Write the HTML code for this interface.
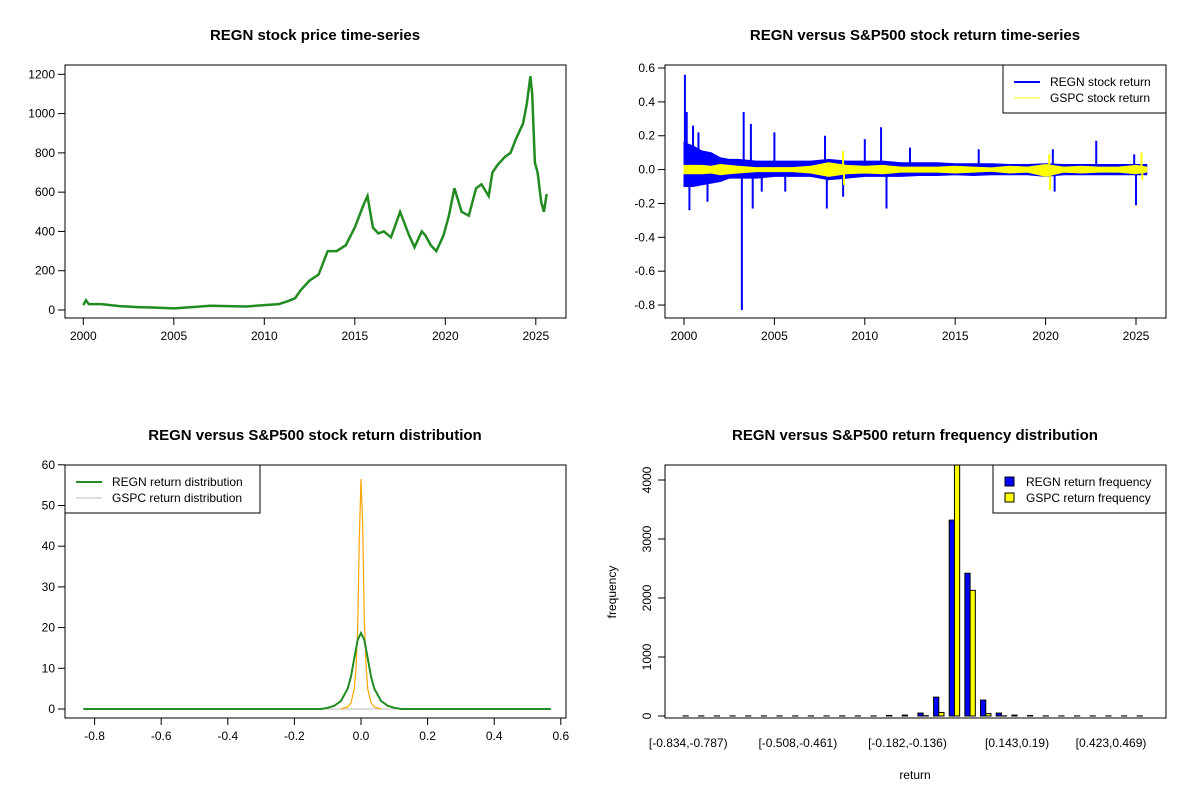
<!DOCTYPE html>
<html><head><meta charset="utf-8"><style>
body{margin:0;background:#fff}
svg{display:block;font-family:"Liberation Sans",Arial,sans-serif}
</style></head><body>
<svg id="s" width="1200" height="800" viewBox="0 0 1200 800"></svg>
<script>
// ---- data ----
const priceYears=[2000,2000.15,2000.3,2001,2002,2003,2004,2005,2006,2007,2008,2009,2010,2010.8,2011.3,2011.7,2012,2012.5,2013,2013.5,2014,2014.5,2015,2015.5,2015.7,2016,2016.3,2016.6,2017,2017.5,2018,2018.3,2018.7,2018.9,2019.2,2019.5,2019.9,2020.2,2020.5,2020.9,2021.3,2021.7,2022,2022.4,2022.6,2022.9,2023.3,2023.6,2023.9,2024.3,2024.5,2024.7,2024.8,2024.95,2025.1,2025.3,2025.45,2025.6];
const priceVals=[25,50,30,30,20,15,12,8,15,22,20,18,25,30,45,60,100,150,180,300,300,330,420,540,580,420,390,400,370,500,380,320,400,380,330,300,380,480,620,500,480,620,640,580,700,740,780,800,870,950,1050,1190,1100,750,700,550,500,590];
const retYears=[2000,2000.5,2001,2001.5,2002,2002.5,2003,2004,2005,2006,2007,2008,2009,2010,2011,2012,2013,2014,2015,2016,2017,2018,2019,2020,2021,2022,2023,2024,2025,2025.6];
const regnHi=[0.16,0.14,0.11,0.1,0.07,0.06,0.06,0.05,0.05,0.05,0.05,0.06,0.05,0.05,0.05,0.04,0.04,0.04,0.035,0.035,0.035,0.03,0.03,0.035,0.03,0.03,0.03,0.03,0.03,0.03];
const regnLo=[-0.1,-0.1,-0.09,-0.08,-0.07,-0.05,-0.05,-0.05,-0.04,-0.04,-0.04,-0.06,-0.05,-0.04,-0.04,-0.04,-0.035,-0.035,-0.03,-0.035,-0.03,-0.03,-0.03,-0.04,-0.03,-0.03,-0.03,-0.03,-0.03,-0.03];
const gspcHi=[0.025,0.025,0.025,0.02,0.03,0.025,0.02,0.012,0.012,0.012,0.02,0.04,0.025,0.02,0.025,0.015,0.015,0.015,0.02,0.015,0.01,0.02,0.015,0.03,0.015,0.02,0.015,0.015,0.025,0.015];
const gspcLo=[-0.025,-0.025,-0.025,-0.02,-0.03,-0.025,-0.02,-0.012,-0.012,-0.012,-0.02,-0.04,-0.025,-0.02,-0.025,-0.015,-0.015,-0.015,-0.02,-0.015,-0.01,-0.02,-0.015,-0.04,-0.015,-0.02,-0.015,-0.015,-0.025,-0.015];
const gspcSpikeYears=[2008.8,2008.85,2020.2,2020.25,2025.3,2025.35];
const gspcSpikeVals=[0.11,-0.09,0.09,-0.12,0.1,-0.06];
const spikeYears=[2000.05,2000.15,2000.3,2000.5,2000.8,2001.3,2003.2,2003.3,2003.7,2003.8,2004.3,2005.0,2005.6,2007.8,2007.9,2008.8,2010.0,2010.9,2011.2,2012.5,2016.3,2020.4,2020.5,2022.8,2024.9,2025.0];
const spikeVals=[0.56,0.34,-0.24,0.26,0.22,-0.19,-0.83,0.34,0.27,-0.23,-0.13,0.22,-0.13,0.2,-0.23,-0.16,0.18,0.25,-0.23,0.13,0.12,0.12,-0.13,0.17,0.09,-0.21];
const regnDx=[-0.834,-0.12,-0.1,-0.08,-0.06,-0.04,-0.03,-0.02,-0.01,0,0.01,0.02,0.03,0.04,0.06,0.08,0.1,0.12,0.57];
const regnDy=[0,0,0.3,0.8,2,5,8,12.5,17,18.7,17,12.5,8,5,2,0.8,0.3,0,0];
const gspcDx=[-0.06,-0.04,-0.03,-0.02,-0.015,-0.01,-0.005,0,0.005,0.01,0.015,0.02,0.03,0.04,0.06];
const gspcDy=[0,0.5,1.5,5,10,20,42,56.5,45,22,11,5,1.5,0.5,0];
const binLabels=["[-0.834,-0.787)","[-0.508,-0.461)","[-0.182,-0.136)","[0.143,0.19)","[0.423,0.469)"];
const binLabelIdx=[0,7,14,21,27];
const regnFreq=[2,2,2,2,2,2,2,2,2,2,2,2,2,10,15,50,320,3320,2420,270,50,15,8,2,2,2,2,2,2,2];
const gspcFreq=[0,0,0,0,0,0,0,0,0,0,0,0,0,0,0,5,60,4400,2130,40,3,0,0,0,0,0,0,0,0,0];

const S=document.getElementById('s');const NS='http://www.w3.org/2000/svg';
function el(t,a,p){const e=document.createElementNS(NS,t);for(const k in a)e.setAttribute(k,a[k]);(p||S).appendChild(e);return e;}
function txt(x,y,s,o){o=o||{};const e=el('text',{x:x,y:y,'font-size':o.fs||12,'text-anchor':o.anchor||'middle','font-weight':o.bold?'bold':'normal',fill:'#000'});if(o.rot)e.setAttribute('transform','rotate(-90 '+x+' '+y+')');e.textContent=s;return e;}
function box(x0,y0,x1,y1,name){const r=el('rect',{x:x0,y:y0,width:x1-x0,height:y1-y0,fill:'none',stroke:'#000','stroke-width':1});}
function xticks(vals,fx,y,labels){vals.forEach((v,i)=>{const x=fx(v);el('line',{x1:x,x2:x,y1:y,y2:y+7,stroke:'#000'});const t=txt(x,y+22,labels?labels[i]:String(v));});}
function yticks(vals,fy,x,labels,rot){vals.forEach((v,i)=>{const y=fy(v);el('line',{x1:x,x2:x-7,y1:y,y2:y,stroke:'#000'});const t=rot?txt(x-14,y,labels?labels[i]:String(v),{rot:1}):txt(x-10,y+4,labels?labels[i]:String(v),{anchor:'end'});});}
function title(x,y,s){const t=txt(x,y,s,{bold:1,fs:15});}

// ---- Panel 1: price ----
{const X=v=>83.3+(v-2000)*18.1, Y=v=>310-v*0.1964;
title(315,40,'REGN stock price time-series');
let d=priceYears.map((t,i)=>(i?'L':'M')+X(t).toFixed(1)+','+Y(priceVals[i]).toFixed(1)).join('');
const p=el('path',{d:d,fill:'none',stroke:'#228B22','stroke-width':2.5});

box(65,65,566,318,'price-plot-frame');
xticks([2000,2005,2010,2015,2020,2025],X,318);
yticks([0,200,400,600,800,1000,1200],Y,65);}

// ---- Panel 2: returns ----
{const X=v=>684+(v-2000)*18.08, Y=v=>169.6-v*169.3;
title(915,40,'REGN versus S&P500 stock return time-series');
function env(hi,lo,col,name){let d='M'+retYears.map((t,i)=>X(t).toFixed(1)+','+Y(hi[i]).toFixed(1)).join('L');
for(let i=retYears.length-1;i>=0;i--)d+='L'+X(retYears[i]).toFixed(1)+','+Y(lo[i]).toFixed(1);
const p=el('path',{d:d+'Z',fill:col,stroke:col,'stroke-width':1});}
env(regnHi,regnLo,'#0000ff','regn-return-series');
spikeYears.forEach((t,i)=>{const l=el('line',{x1:X(t),x2:X(t),y1:Y(0),y2:Y(spikeVals[i]),stroke:'#0000ff','stroke-width':2});});
env(gspcHi,gspcLo,'#ffff00','gspc-return-series');
gspcSpikeYears.forEach((t,i)=>{const l=el('line',{x1:X(t),x2:X(t),y1:Y(0),y2:Y(gspcSpikeVals[i]),stroke:'#ffff00','stroke-width':2});});
box(665,65,1166,318,'return-plot-frame');
xticks([2000,2005,2010,2015,2020,2025],X,318);
yticks([-0.8,-0.6,-0.4,-0.2,0,0.2,0.4,0.6],Y,665,['-0.8','-0.6','-0.4','-0.2','0.0','0.2','0.4','0.6']);
const g=el('g',{});
el('rect',{x:1003,y:65,width:163,height:48,fill:'#fff',stroke:'#000'},g);
el('line',{x1:1014,x2:1040,y1:82,y2:82,stroke:'#0000ff','stroke-width':2},g);
el('line',{x1:1014,x2:1040,y1:98,y2:98,stroke:'#ffff00','stroke-width':1},g);
g.appendChild(txt(1050,86,'REGN stock return',{anchor:'start'}));
g.appendChild(txt(1050,102,'GSPC stock return',{anchor:'start'}));}

// ---- Panel 3: density ----
{const X=v=>361+v*333, Y=v=>709-v*4.07;
title(315,440,'REGN versus S&P500 stock return distribution');
const gl=el('line',{x1:X(-0.834),x2:X(0.57),y1:Y(0),y2:Y(0),stroke:'#bebebe'});
let d=gspcDx.map((x,i)=>(i?'L':'M')+X(x).toFixed(1)+','+Y(gspcDy[i]).toFixed(1)).join('');
const o=el('path',{d:d,fill:'none',stroke:'#FFA500','stroke-width':1.2});
d=regnDx.map((x,i)=>(i?'L':'M')+X(x).toFixed(1)+','+Y(regnDy[i]).toFixed(1)).join('');
const gr=el('path',{d:d,fill:'none',stroke:'#228B22','stroke-width':2});
box(65,465,566,718,'density-plot-frame');
xticks([-0.8,-0.6,-0.4,-0.2,0,0.2,0.4,0.6],X,718,['-0.8','-0.6','-0.4','-0.2','0.0','0.2','0.4','0.6']);
yticks([0,10,20,30,40,50,60],Y,65);
const g=el('g',{});
el('rect',{x:65,y:465,width:195,height:48,fill:'#fff',stroke:'#000'},g);
el('line',{x1:76,x2:102,y1:482,y2:482,stroke:'#228B22','stroke-width':2},g);
el('line',{x1:76,x2:102,y1:498,y2:498,stroke:'#bebebe','stroke-width':1},g);
g.appendChild(txt(112,486,'REGN return distribution',{anchor:'start'}));
g.appendChild(txt(112,502,'GSPC return distribution',{anchor:'start'}));}

// ---- Panel 4: histogram ----
{const u=5.22, gx=i=>683+i*3*u, Y=v=>716-v*0.059;
title(915,440,'REGN versus S&P500 return frequency distribution');
const cl=el('clipPath',{id:'c4'});el('rect',{x:665,y:465,width:501,height:253},cl);
const g4=el('g',{'clip-path':'url(#c4)'});
regnFreq.forEach((v,i)=>{const r=el('rect',{x:gx(i),y:Y(v),width:u,height:Y(0)-Y(v),fill:'#0000ff',stroke:'#000','stroke-width':1},g4);});
gspcFreq.forEach((v,i)=>{const r=el('rect',{x:gx(i)+u,y:Y(v),width:u,height:Y(0)-Y(v),fill:'#ffff00',stroke:'#000','stroke-width':1},g4);});
box(665,465,1166,718,'histogram-plot-frame');
binLabelIdx.forEach((k,i)=>{const t=txt(gx(k)+u,747,binLabels[i]);});
yticks([0,1000,2000,3000,4000],Y,665,null,true);
const yl=txt(616,592,'frequency',{rot:1});
const xl=txt(915,779,'return');
const g=el('g',{});
el('rect',{x:993,y:465,width:173,height:48,fill:'#fff',stroke:'#000'},g);
el('rect',{x:1005,y:477,width:9,height:9,fill:'#0000ff',stroke:'#000'},g);
el('rect',{x:1005,y:493,width:9,height:9,fill:'#ffff00',stroke:'#000'},g);
g.appendChild(txt(1026,486,'REGN return frequency',{anchor:'start'}));
g.appendChild(txt(1026,502,'GSPC return frequency',{anchor:'start'}));}
</script>
</body></html>
